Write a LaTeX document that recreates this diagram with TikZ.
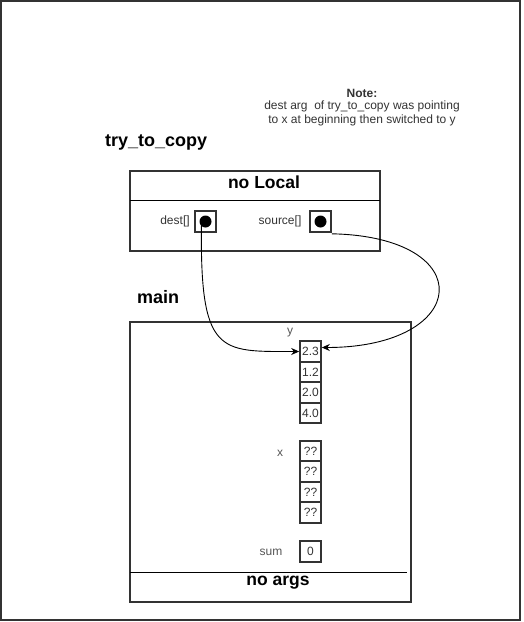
\documentclass[tikz,border=0pt]{standalone}
\usepackage{fontspec}
\setmainfont{Liberation Sans}
\usetikzlibrary{arrows.meta}
\definecolor{edge}{HTML}{333333}
\definecolor{txt}{HTML}{333333}
\definecolor{lbl}{HTML}{555555}
\begin{document}
\begin{tikzpicture}[x=1pt,y=-1pt,
  frame/.style={draw=edge,line width=2pt},
  cell/.style={draw=edge,line width=1.6pt,minimum width=21pt,minimum height=20.5pt,inner sep=0pt,text=txt,font=\fontsize{12}{14}\selectfont},
  ptrbox/.style={draw=edge,line width=1.6pt,minimum width=21pt,minimum height=21pt,inner sep=0pt},
  dot/.style={circle,fill=black,minimum size=12pt,inner sep=0pt},
  title/.style={font=\bfseries\fontsize{18}{20}\selectfont,text=black,inner sep=0pt},
  head/.style={font=\bfseries\fontsize{17.5}{20}\selectfont,text=black,inner sep=0pt},
  lab/.style={font=\fontsize{12}{14}\selectfont,text=lbl,inner sep=0pt},
  note/.style={font=\fontsize{12}{14}\selectfont,text=txt,inner sep=0pt},
  conn/.style={draw=black,line width=0.9pt,-{Stealth[length=8pt,width=7pt]}}
]
\useasboundingbox (0,0) rectangle (523,622);
\draw[draw=edge,line width=2pt] (1,1) rectangle (520,620);

% note
\node[note,font=\bfseries\fontsize{12}{14}\selectfont] (noteh) at (362,93) {Note:};
\node[note] (note1) at (362,106.5) {dest arg\ \ of try\_to\_copy was pointing};
\node[note] (note2) at (362,120) {to x at beginning then switched to y};

% try_to_copy frame
\node[title,anchor=west] (ttc) at (105,142) {try\_to\_copy};
\draw[frame] (130,171) rectangle (380,251);
\draw[draw=black,line width=1pt] (130,200) -- (380,200);
\node[head] (nolocal) at (264,182.5) {no Local};
\node[lab,text=txt] (destl) at (175,221) {dest[]};
\node[lab,text=txt] (srcl) at (280,221) {source[]};
\node[ptrbox] (dbox) at (205.5,221.5) {};
\node[ptrbox] (sbox) at (320.5,221.5) {};

% main frame
\node[title,anchor=west] (mainl) at (137,297) {main};
\draw[frame] (130,322) rectangle (411,602);
\draw[draw=black,line width=1pt] (130,572) -- (407,572);
\node[head] (noargs) at (278,582.5) {no args};

% y array
\node[lab] (yl) at (290,333) {y};
\node[cell] (y1) at (310.5,351.5) {2.3};
\node[cell] (y2) at (310.5,372) {1.2};
\node[cell] (y3) at (310.5,392.5) {2.0};
\node[cell] (y4) at (310.5,413) {4.0};

% x array
\node[lab] (xl) at (280,453) {x};
\node[cell] (x1) at (310.5,451) {??};
\node[cell] (x2) at (310.5,471.5) {??};
\node[cell] (x3) at (310.5,492) {??};
\node[cell] (x4) at (310.5,512.5) {??};

% sum
\node[lab] (suml) at (271,552) {sum};
\node[cell,minimum height=21.5pt] (sumc) at (310.5,551.5) {0};

% connectors
\draw[conn] ([xshift=-4pt]dbox.center) .. controls +(-2,134) and +(-80,0) .. (y1.west);
\draw[conn] ([yshift=-1pt]sbox.south east) .. controls +(149,3) and +(149,0) .. ([yshift=4pt]y1.east);

% dots on top
\node[dot] (ddot) at (dbox.center) {};
\node[dot] (sdot) at (sbox.center) {};
\end{tikzpicture}
\end{document}
